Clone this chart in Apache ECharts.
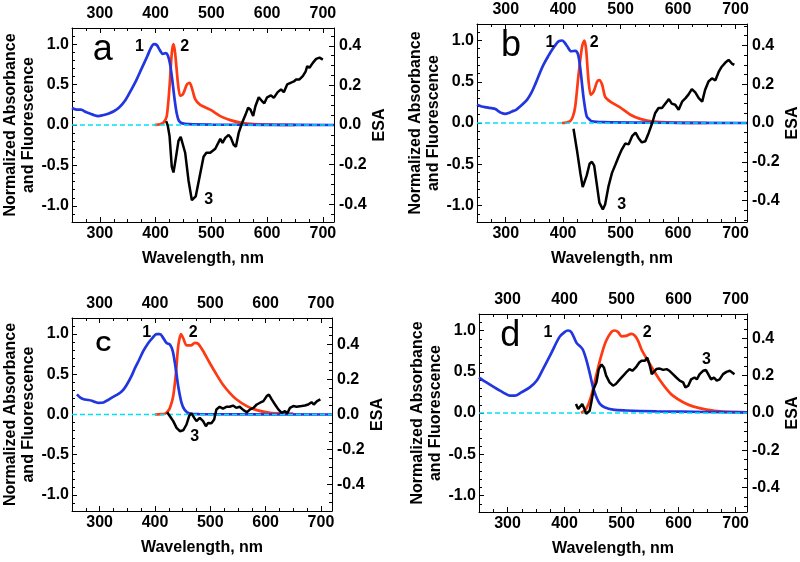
<!DOCTYPE html>
<html><head><meta charset="utf-8">
<script src="https://cdn.jsdelivr.net/npm/echarts@6/dist/echarts.min.js"></script>
<style>html,body{margin:0;padding:0;background:#fff}#c{width:800px;height:562px}</style>
</head><body><div id="c"></div>
<script>
// ---- tick values ----
const xMajor = [300, 400, 500, 600, 700];
const xMinor = [250,275,300,325,350,375,400,425,450,475,500,525,550,575,600,625,650,675,700,720];
const yLeftMajor = [-1, -0.5, 0, 0.5, 1];
const yLeftMinor = [-1.2,-1.1,-1.0,-0.9,-0.8,-0.7,-0.6,-0.5,-0.4,-0.3,-0.2,-0.1,0,0.1,0.2,0.3,0.4,0.5,0.6,0.7,0.8,0.9,1.0,1.1,1.2];
const yRightMajor = [-0.4, -0.2, 0, 0.2, 0.4];
const yRightMinor = [-0.5,-0.45,-0.4,-0.35,-0.3,-0.25,-0.2,-0.15,-0.1,-0.05,0,0.05,0.1,0.15,0.2,0.25,0.3,0.35,0.4,0.45,0.5];
const panelLetters = ['a', 'b', 'C', 'd'];
const esaRange = [0.49, 0.51, 0.55, 0.53];

// ---- data: [wavelength nm, value] ----
const zeroLine = [[250,0],[720,0]];
const absA = [[250,0.21],[258,0.19],[266,0.19],[275,0.16],[283,0.14],[290,0.12],[297,0.11],[305,0.12],[315,0.14],[325,0.17],[335,0.22],[345,0.30],[355,0.42],[365,0.55],[375,0.70],[385,0.85],[392,0.96],[397,1.0],[402,0.99],[408,0.92],[413,0.88],[418,0.89],[422,0.86],[426,0.75],[430,0.55],[434,0.32],[438,0.14],[442,0.05],[448,0.02],[460,0.01],[500,0.005],[600,0.002],[720,0.0]];
const fluA = [[398,0],[408,0.01],[414,0.03],[420,0.11],[425,0.48],[429,0.89],[432,1.0],[435,0.89],[440,0.52],[444,0.36],[449,0.38],[456,0.50],[461,0.52],[465,0.46],[471,0.32],[480,0.25],[498,0.19],[516,0.11],[534,0.06],[552,0.03],[576,0.01],[610,0.004],[650,0.0]];
const esaA = [[419,0.02],[422,-0.006],[425,-0.056],[429,-0.21],[432,-0.24],[435,-0.19],[441,-0.08],[445,-0.06],[448,-0.065],[453,-0.14],[459,-0.28],[465,-0.38],[468,-0.39],[472,-0.36],[479,-0.26],[486,-0.16],[491,-0.14],[498,-0.14],[507,-0.12],[516,-0.07],[520,-0.09],[525,-0.065],[531,-0.05],[535,-0.065],[540,-0.1],[544,-0.11],[549,-0.04],[555,0.01],[561,0.05],[566,0.087],[570,0.078],[575,0.045],[579,0.095],[585,0.14],[591,0.12],[595,0.11],[600,0.14],[607,0.15],[612,0.137],[619,0.166],[625,0.18],[630,0.166],[636,0.205],[642,0.213],[648,0.22],[652,0.23],[658,0.23],[664,0.247],[669,0.27],[672,0.297],[676,0.289],[682,0.314],[688,0.334],[694,0.34],[700,0.33]];

const absB = [[250,0.22],[258,0.2],[267,0.19],[275,0.18],[282,0.17],[288,0.14],[293,0.12],[299,0.11],[305,0.12],[311,0.14],[318,0.16],[325,0.2],[337,0.28],[345,0.37],[352,0.48],[359,0.6],[366,0.71],[374,0.81],[381,0.89],[387,0.95],[392,0.99],[398,1.0],[403,0.97],[407,0.93],[414,0.87],[421,0.875],[426,0.83],[430,0.65],[433,0.46],[436,0.28],[441,0.08],[446,0.04],[450,0.02],[470,0.01],[550,0.004],[720,0.0]];
const fluB = [[398,0],[405,0.005],[412,0.02],[417,0.08],[421,0.2],[427,0.6],[433,0.93],[437,1.0],[440,0.89],[444,0.52],[448,0.34],[453,0.38],[459,0.5],[463,0.52],[468,0.46],[473,0.32],[482,0.26],[499,0.19],[517,0.1],[534,0.05],[557,0.016],[592,0.004],[650,0.0]];
const esaB = [[418,-0.03],[424,-0.14],[430,-0.26],[434,-0.33],[437,-0.34],[441,-0.27],[446,-0.21],[450,-0.2],[454,-0.22],[459,-0.325],[463,-0.41],[469,-0.445],[473,-0.42],[479,-0.325],[485,-0.257],[491,-0.214],[497,-0.17],[502,-0.137],[508,-0.106],[514,-0.11],[520,-0.068],[526,-0.05],[531,-0.077],[537,-0.1],[543,-0.094],[549,-0.05],[555,0],[560,0.05],[566,0.077],[572,0.077],[578,0.1],[584,0.123],[589,0.1],[595,0.094],[601,0.068],[607,0.11],[613,0.128],[618,0.146],[624,0.175],[630,0.158],[636,0.128],[642,0.11],[647,0.17],[653,0.214],[659,0.23],[665,0.22],[671,0.265],[676,0.29],[682,0.31],[688,0.325],[691,0.32],[694,0.305],[698,0.3]];

const absC = [[259,0.25],[265,0.21],[271,0.19],[280,0.18],[286,0.17],[292,0.155],[298,0.145],[307,0.15],[315,0.18],[322,0.21],[330,0.24],[337,0.27],[343,0.31],[349,0.37],[357,0.47],[364,0.58],[372,0.69],[379,0.79],[387,0.88],[394,0.94],[403,1.0],[409,1.0],[415,0.95],[421,0.89],[427,0.87],[432,0.79],[436,0.64],[439,0.5],[442,0.35],[448,0.145],[454,0.054],[463,0.012],[480,0.005],[720,0.0]];
const fluC = [[400,0],[410,0.004],[418,0.01],[423,0.04],[427,0.08],[433,0.23],[438,0.52],[442,0.85],[447,1.0],[451,0.95],[457,0.86],[465,0.86],[472,0.89],[478,0.88],[487,0.79],[499,0.64],[511,0.5],[523,0.37],[535,0.27],[547,0.19],[566,0.104],[584,0.054],[608,0.02],[632,0.012],[650,0.01]];
const esaC = [[422,0.013],[427,-0.01],[433,-0.038],[439,-0.076],[445,-0.095],[451,-0.09],[457,-0.057],[462,-0.006],[466,0.006],[471,-0.019],[475,-0.038],[481,-0.019],[487,-0.038],[492,-0.067],[496,-0.048],[502,-0.05],[507,-0.029],[511,0.029],[517,0.044],[523,0.034],[529,0.044],[535,0.044],[541,0.051],[547,0.038],[553,0.044],[560,0.025],[566,0.013],[572,0.029],[578,0.038],[584,0.057],[590,0.067],[596,0.076],[602,0.105],[606,0.114],[611,0.086],[617,0.057],[623,0.029],[629,0.0095],[635,0.019],[639,0.006],[644,0.038],[650,0.048],[656,0.044],[665,0.048],[671,0.051],[677,0.057],[683,0.07],[687,0.057],[693,0.076],[699,0.086]];

const absD = [[250,0.43],[263,0.37],[277,0.31],[292,0.25],[304,0.21],[313,0.21],[324,0.25],[339,0.31],[351,0.39],[362,0.53],[377,0.73],[391,0.92],[400,0.98],[406,1.0],[412,0.98],[421,0.85],[427,0.81],[432,0.77],[438,0.65],[444,0.49],[450,0.31],[456,0.19],[462,0.11],[470,0.07],[485,0.04],[508,0.03],[561,0.02],[649,0.012],[720,0.008]];
const fluD = [[429,0],[438,0.05],[447,0.21],[456,0.47],[465,0.71],[473,0.875],[482,0.98],[488,1.0],[494,0.98],[500,0.93],[508,0.935],[517,0.96],[523,0.94],[529,0.875],[535,0.77],[543,0.67],[555,0.53],[567,0.40],[579,0.29],[590,0.21],[608,0.13],[625,0.08],[649,0.04],[678,0.016],[720,0.008]];
const esaD = [[420,0.048],[424,0.021],[427,0.012],[431,0.048],[435,0.021],[438,-0.005],[441,-0.014],[444,0.012],[447,0.057],[451,0.128],[456,0.164],[460,0.235],[465,0.26],[469,0.244],[473,0.2],[479,0.164],[485,0.146],[490,0.155],[497,0.18],[503,0.2],[508,0.217],[514,0.235],[519,0.226],[525,0.244],[531,0.27],[535,0.28],[541,0.28],[545,0.297],[549,0.26],[553,0.208],[556,0.217],[561,0.235],[567,0.238],[573,0.231],[579,0.235],[584,0.226],[590,0.208],[596,0.19],[602,0.173],[608,0.164],[612,0.137],[617,0.146],[622,0.18],[628,0.19],[632,0.18],[637,0.208],[643,0.226],[648,0.23],[652,0.208],[657,0.18],[662,0.19],[667,0.173],[672,0.18],[678,0.208],[684,0.22],[690,0.226],[694,0.217],[698,0.208]];

const absData = [absA, absB, absC, absD];
const fluData = [fluA, fluB, fluC, fluD];
const esaData = [esaA, esaB, esaC, esaD];

// ---- layout & style ----
const grids = [
  {left: 72, top: 28, width: 262, height: 194},
  {left: 477, top: 24, width: 270, height: 198},
  {left: 72, top: 318, width: 260, height: 193},
  {left: 479, top: 314, width: 268, height: 198}
];
// annotation anchors in data coordinates: [nm, left-axis value]
const annoPos = [
  {n1: [371, 0.975], n2: [452, 0.975], n3: [495, -0.92], L: [305, 0.93]},
  {n1: [377, 0.97], n2: [454, 0.97], n3: [502, -0.99], L: [309, 0.93]},
  {n1: [385, 1.02], n2: [469, 1.02], n3: [472, -0.27], L: [307, 0.86]},
  {n1: [371, 0.976], n2: [545, 0.976], n3: [649, 0.65], L: [305, 0.93]}
];
const FONT = '"Liberation Sans", Arial, Helvetica, sans-serif';
const BLUE = '#2236e0', RED = '#ff3a12', CYAN = '#00e0f8';

const xAxes = [], yAxes = [], series = [];
function inRange(arr, lo, hi) { return arr.filter(v => v >= lo - 1e-9 && v <= hi + 1e-9); }

for (let i = 0; i < 4; i++) {
  const r = esaRange[i];
  const lblStyle = {color: '#000', fontFamily: FONT, fontWeight: 'bold', fontSize: 16};
  const nameStyle = {color: '#000', fontFamily: FONT, fontWeight: 'bold', fontSize: 16, lineHeight: 18};
  ['bottom', 'top'].forEach(pos => {
    xAxes.push({type: 'value', gridIndex: i, position: pos, min: 250, max: 720,
      axisLine: {show: true, onZero: false, lineStyle: {color: '#000', width: 1}},
      axisTick: {show: true, inside: true, length: 5, customValues: xMajor, lineStyle: {color: '#000', width: 1}},
      axisLabel: {show: true, customValues: xMajor, margin: pos === 'top' ? 6 : 4, ...lblStyle},
      splitLine: {show: false},
      name: pos === 'bottom' ? 'Wavelength, nm' : '', nameLocation: 'middle', nameGap: 28, nameTextStyle: nameStyle});
  });
  ['bottom', 'top'].forEach(pos => {
    xAxes.push({type: 'value', gridIndex: i, position: pos, min: 250, max: 720,
      axisLine: {show: false, onZero: false},
      axisTick: {show: true, inside: true, length: 3, customValues: xMinor, lineStyle: {color: '#000', width: 1}},
      axisLabel: {show: false}, splitLine: {show: false}});
  });
  yAxes.push({type: 'value', gridIndex: i, position: 'left', min: -1.2, max: 1.2,
    axisLine: {show: true, onZero: false, lineStyle: {color: '#000', width: 1}},
    axisTick: {show: true, inside: true, length: 5, customValues: yLeftMajor, lineStyle: {color: '#000', width: 1}},
    axisLabel: {show: true, customValues: yLeftMajor, margin: 3, formatter: v => Number(v).toFixed(1), ...lblStyle},
    splitLine: {show: false},
    name: 'Normalized Absorbance\nand Fluorescence', nameLocation: 'middle', nameRotate: 90, nameGap: 31, nameTextStyle: nameStyle});
  yAxes.push({type: 'value', gridIndex: i, position: 'right', min: -r, max: r,
    axisLine: {show: true, onZero: false, lineStyle: {color: '#000', width: 1}},
    axisTick: {show: true, inside: true, length: 5, customValues: yRightMajor, lineStyle: {color: '#000', width: 1}},
    axisLabel: {show: true, customValues: yRightMajor, margin: 5, formatter: v => Number(v).toFixed(1), ...lblStyle},
    splitLine: {show: false},
    name: 'ESA', nameLocation: 'middle', nameRotate: 90, nameGap: 27, nameTextStyle: nameStyle});
  yAxes.push({type: 'value', gridIndex: i, position: 'left', min: -1.2, max: 1.2,
    axisLine: {show: false, onZero: false},
    axisTick: {show: true, inside: true, length: 3, customValues: yLeftMinor, lineStyle: {color: '#000', width: 1}},
    axisLabel: {show: false}, splitLine: {show: false}});
  yAxes.push({type: 'value', gridIndex: i, position: 'right', min: -r, max: r,
    axisLine: {show: false, onZero: false},
    axisTick: {show: true, inside: true, length: 3, customValues: inRange(yRightMinor, -r, r), lineStyle: {color: '#000', width: 1}},
    axisLabel: {show: false}, splitLine: {show: false}});

  const xi = 4 * i, yl = 4 * i, yr = 4 * i + 1;
  series.push({type: 'line', xAxisIndex: xi, yAxisIndex: yl, data: fluData[i], showSymbol: false, smooth: 0.25,
    lineStyle: {color: RED, width: 2.7}, itemStyle: {color: RED}, z: 2});
  series.push({type: 'line', xAxisIndex: xi, yAxisIndex: yl, data: absData[i], showSymbol: false, smooth: 0.3,
    lineStyle: {color: BLUE, width: 2.7}, itemStyle: {color: BLUE}, z: 3});
  series.push({type: 'line', xAxisIndex: xi, yAxisIndex: yl, data: zeroLine, showSymbol: false, silent: true,
    lineStyle: {color: CYAN, width: 1.5, type: [5, 3], opacity: 1}, itemStyle: {color: CYAN}, z: 4});
  series.push({type: 'line', xAxisIndex: xi, yAxisIndex: yr, data: esaData[i], showSymbol: false, smooth: false,
    lineStyle: {color: '#000', width: 2.5}, itemStyle: {color: '#000'}, z: 5});
  const a = annoPos[i];
  const numLbl = {fontSize: 16, fontWeight: 'bold', fontFamily: FONT, color: '#000', opacity: 1, textBorderWidth: 0};
  const letterLbl = panelLetters[i] === 'C'
    ? {fontSize: 22, fontWeight: 'bold', fontFamily: FONT, color: '#000', opacity: 1, textBorderWidth: 0}
    : {fontSize: 36, fontWeight: 'normal', fontFamily: FONT, color: '#000', opacity: 1, textBorderWidth: 0};
  series.push({type: 'scatter', xAxisIndex: xi, yAxisIndex: yl, symbolSize: 0, silent: true, z: 10,
    itemStyle: {opacity: 1, color: '#000'},
    label: {show: true, position: 'inside', color: '#000', formatter: p => p.value[2]},
    data: [
      {value: [a.n1[0], a.n1[1], '1'], label: numLbl},
      {value: [a.n2[0], a.n2[1], '2'], label: numLbl},
      {value: [a.n3[0], a.n3[1], '3'], label: numLbl},
      {value: [a.L[0], a.L[1], panelLetters[i]], label: letterLbl}
    ]});
}

const chart = echarts.init(document.getElementById('c'), null, {renderer: 'canvas'});
chart.setOption({
  animation: false,
  backgroundColor: '#fff',
  grid: grids.map(g => ({...g, containLabel: false, outerBoundsMode: 'none'})),
  xAxis: xAxes,
  yAxis: yAxes,
  series: series
});
</script></body></html>
